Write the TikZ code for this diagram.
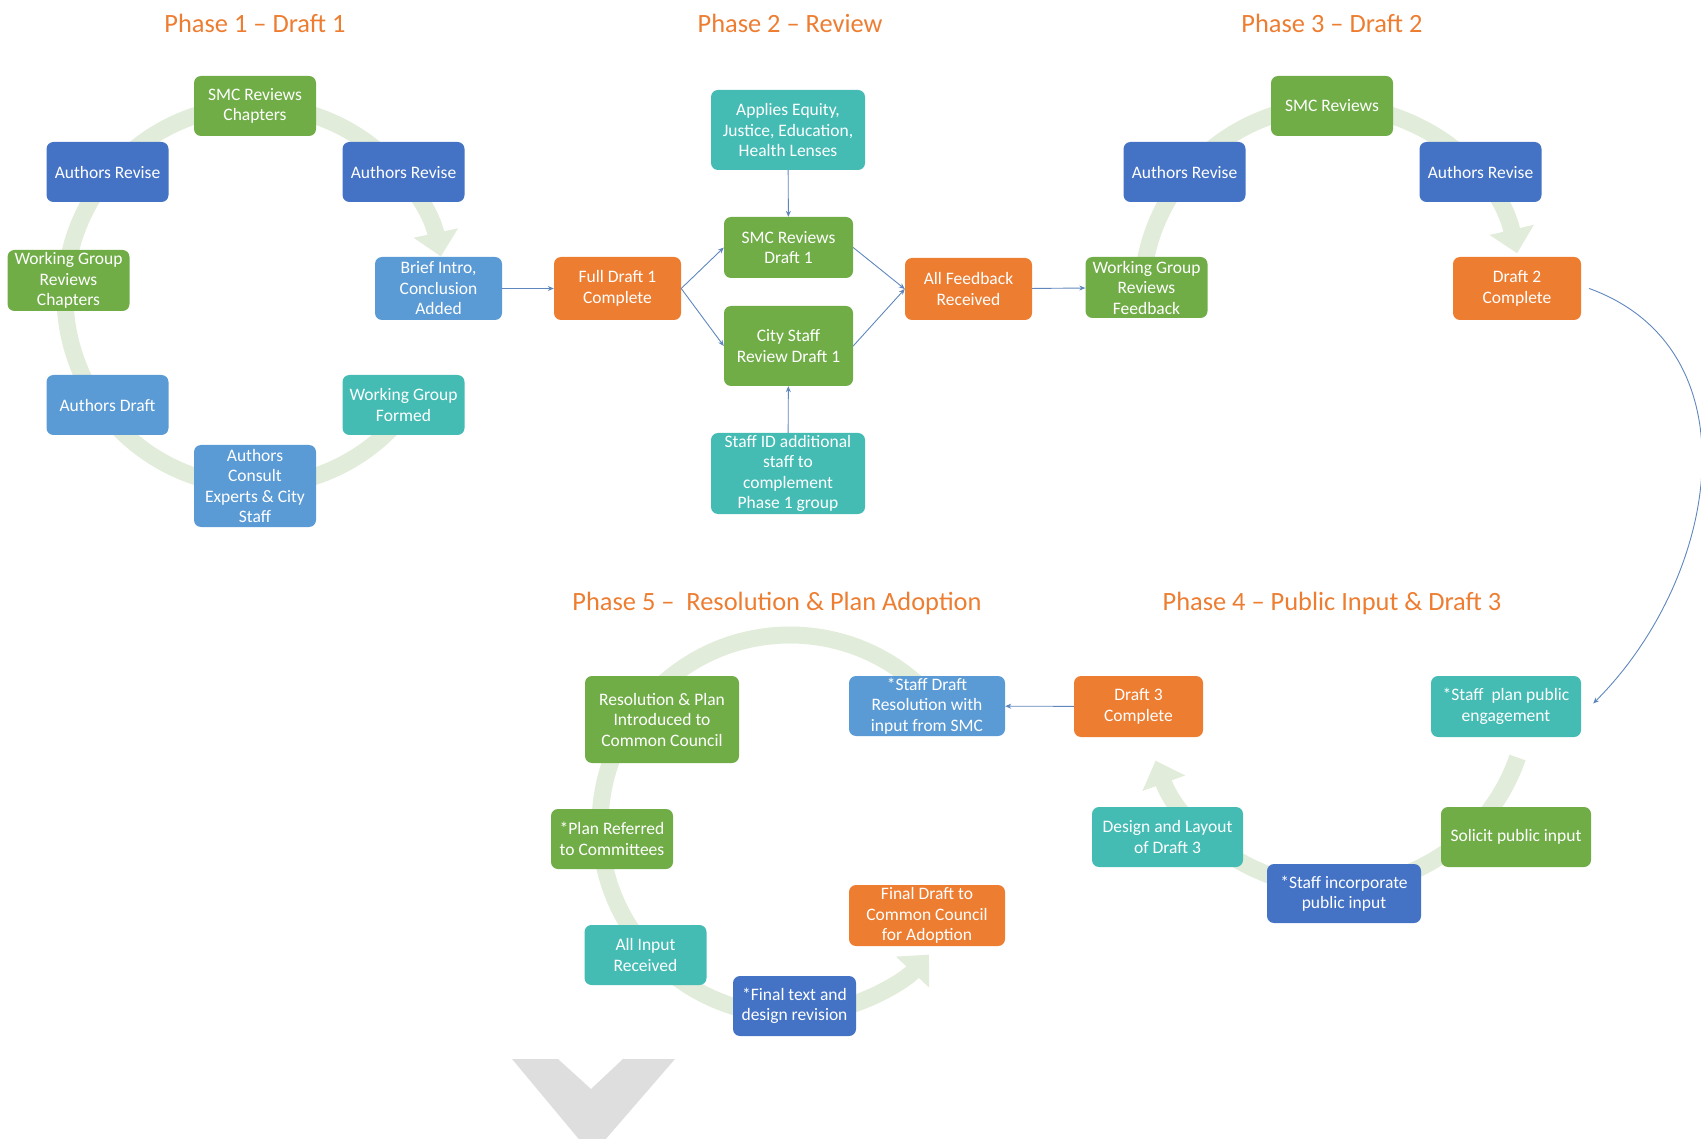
\documentclass[tikz,border=0pt]{standalone}
\usepackage{fontspec}
\setmainfont{Carlito}
\usepackage{tikz}
\usetikzlibrary{arrows.meta,positioning,calc}

\definecolor{ogreen}{RGB}{112,173,71}
\definecolor{oblue}{RGB}{68,114,196}
\definecolor{lblue}{RGB}{91,155,213}
\definecolor{oteal}{RGB}{68,188,180}
\definecolor{oorange}{RGB}{237,125,49}
\definecolor{ringgreen}{RGB}{226,236,218}
\definecolor{linkblue}{RGB}{95,135,190}
\definecolor{chevgray}{RGB}{222,222,222}

\begin{document}
\begin{tikzpicture}[x=1pt, y=1pt,
    stage/.style={rounded corners=7pt, text=white, align=center, inner sep=0pt,
        minimum width=122pt, minimum height=60pt, font=\fontsize{17.5}{20.5}\selectfont},
    gbox/.style={stage, fill=ogreen},
    bbox/.style={stage, fill=oblue},
    lbox/.style={stage, fill=lblue},
    tbox/.style={stage, fill=oteal},
    obox/.style={stage, fill=oorange},
    phase/.style={text=oorange, font=\fontsize{26.4}{31}\selectfont},
    ring/.style={line width=17pt, draw=ringgreen, -{Triangle[length=24pt,width=44pt]}},
    link/.style={draw=linkblue, line width=0.9pt, -{Stealth[length=6pt,width=5pt]}}]

    \useasboundingbox (0,0) rectangle (1701,-1139);

    % Ring centres
    \coordinate (c1) at (255,-296);
    \coordinate (c3) at (1332,-296);
    \coordinate (c4) at (1336,-695);
    \coordinate (c5) at (790,-825);

    % Rings
    \draw[ring] ($(c1)+(-36:190)$) arc[start angle=-36, end angle=-348, radius=190];
    \draw[ring] ($(c3)+(170:190)$) arc[start angle=170, end angle=13, radius=190];
    \draw[ring] ($(c4)+(-19:192)$) arc[start angle=-19, end angle=-160, radius=192];
    \draw[ring] ($(c5)+(45:190)$) arc[start angle=45, end angle=317, radius=190];

    % Chevron at the bottom
    \fill[chevgray] (512,-1059) -- (558,-1059) -- (591,-1089) -- (623,-1059)
        -- (675,-1059) -- (592,-1155) -- cycle;

    % Phase titles
    \node[phase] (t1) at (255,-23) {Phase 1 – Draft 1};
    \node[phase] (t2) at (790,-23) {Phase 2 – Review};
    \node[phase] (t3) at (1332,-23) {Phase 3 – Draft 2};
    \node[phase] (t5) at (777,-603) {Phase 5 –\ \ Resolution \& Plan Adoption};
    \node[phase] (t4) at (1332,-603) {Phase 4 – Public Input \& Draft 3};

    % Phase 1
    \node[gbox] (p1smc) at (255,-106) {SMC Reviews\\Chapters};
    \node[bbox] (p1revL) at (107.5,-172) {Authors Revise};
    \node[bbox] (p1revR) at (403.5,-172) {Authors Revise};
    \node[gbox, minimum height=61pt] (p1wg) at (68.5,-280.5) {Working Group\\Reviews\\Chapters};
    \node[lbox, minimum width=127pt, minimum height=63pt] (brief) at (438.5,-288.5) {Brief Intro,\\Conclusion\\Added};
    \node[lbox] (p1draft) at (107.5,-405) {Authors Draft};
    \node[tbox] (wgform) at (403.5,-405) {Working Group\\Formed};
    \node[lbox, minimum height=82pt] (consult) at (255,-486) {Authors\\Consult\\Experts \& City\\Staff};

    % Phase 2
    \node[obox, minimum width=127pt, minimum height=63pt] (fd1) at (617.5,-288.5) {Full Draft 1\\Complete};
    \node[tbox, minimum width=154pt, minimum height=80pt] (lens) at (788,-130) {Applies Equity,\\Justice, Education,\\Health Lenses};
    \node[gbox, minimum width=129pt, minimum height=61pt] (smc2) at (788.5,-247.5) {SMC Reviews\\Draft 1};
    \node[gbox, minimum width=129pt, minimum height=80pt] (city) at (788.5,-346) {City Staff\\Review Draft 1};
    \node[tbox, minimum width=154pt, minimum height=81pt] (staffid) at (788,-473.5) {Staff ID additional\\staff to\\complement\\Phase 1 group};
    \node[obox, minimum width=127pt, minimum height=62pt] (fb) at (968.5,-289) {All Feedback\\Received};

    % Phase 3
    \node[gbox, minimum height=61pt] (wgf) at (1146.5,-287.5) {Working Group\\Reviews\\Feedback};
    \node[gbox] (p3smc) at (1332,-106) {SMC Reviews};
    \node[bbox] (p3revL) at (1184.5,-172) {Authors Revise};
    \node[bbox] (p3revR) at (1480.5,-172) {Authors Revise};
    \node[obox, minimum width=128pt, minimum height=63pt] (d2) at (1517,-288.5) {Draft 2\\Complete};

    % Phase 4
    \node[tbox, minimum width=150pt, minimum height=61pt] (plan) at (1506,-706.5) {*Staff\ \ plan public\\engagement};
    \node[gbox, minimum width=150pt] (solicit) at (1516,-837) {Solicit public input};
    \node[bbox, minimum width=154pt, minimum height=59pt] (incorp) at (1344,-893.5) {*Staff incorporate\\public input};
    \node[tbox, minimum width=151pt] (layout) at (1167.5,-837) {Design and Layout\\of Draft 3};
    \node[obox, minimum width=129pt, minimum height=61pt] (d3) at (1138.5,-706.5) {Draft 3\\Complete};

    % Phase 5
    \node[lbox, minimum width=156pt] (sdr) at (927,-706) {*Staff Draft\\Resolution with\\input from SMC};
    \node[gbox, minimum width=154pt, minimum height=87pt] (intro) at (662,-719.5) {Resolution \& Plan\\Introduced to\\Common Council};
    \node[gbox] (refer) at (612,-839) {*Plan Referred\\to Committees};
    \node[tbox] (allin) at (645.5,-955) {All Input\\Received};
    \node[bbox, minimum width=123pt] (finaltxt) at (794.5,-1006) {*Final text and\\design revision};
    \node[obox, minimum width=156pt, minimum height=61pt] (finaldraft) at (927,-915.5) {Final Draft to\\Common Council\\for Adoption};

    % Connectors
    \draw[link] (brief) -- (fd1);
    \draw[link] (fd1.east) -- (smc2.west);
    \draw[link] (fd1.east) -- (city.west);
    \draw[link] (lens) -- (smc2);
    \draw[link] (staffid) -- (city);
    \draw[link] (smc2.east) -- (fb.west);
    \draw[link] (city.east) -- (fb.west);
    \draw[link] (fb) -- (wgf);
    \draw[link] ([xshift=8pt]d2.east) to[out=-20, in=45, looseness=1.1] ([xshift=12pt,yshift=3pt]plan.east);
    \draw[link] (d3) -- (sdr);

\end{tikzpicture}
\end{document}
